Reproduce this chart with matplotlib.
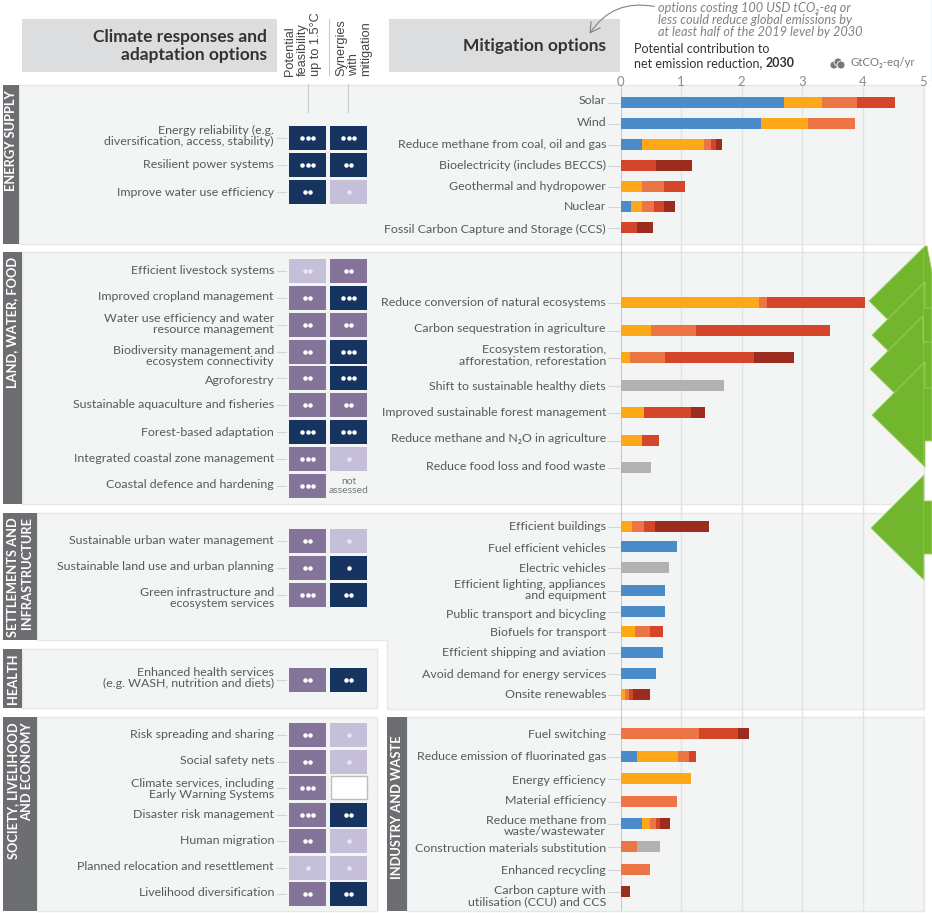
import numpy as np
import matplotlib
matplotlib.use("Agg")
import matplotlib.pyplot as plt
from matplotlib.patches import Rectangle, Polygon, Circle, FancyArrowPatch

# --- данные ---
mit_energy = ["Solar", "Wind", "Reduce methane from coal, oil and gas", "Bioelectricity (includes BECCS)",
              "Geothermal and hydropower", "Nuclear", "Fossil Carbon Capture and Storage (CCS)"]
mit_land = ["Reduce conversion of natural ecosystems", "Carbon sequestration in agriculture",
            "Ecosystem restoration,\nafforestation, reforestation", "Shift to sustainable healthy diets",
            "Improved sustainable forest management", "Reduce methane and N₂O in agriculture",
            "Reduce food loss and food waste"]
mit_settle = ["Efficient buildings", "Fuel efficient vehicles", "Electric vehicles",
              "Efficient lighting, appliances\nand equipment", "Public transport and bicycling",
              "Biofuels for transport", "Efficient shipping and aviation", "Avoid demand for energy services",
              "Onsite renewables"]
mit_industry = ["Fuel switching", "Reduce emission of fluorinated gas", "Energy efficiency", "Material efficiency",
                "Reduce methane from\nwaste/wastewater", "Construction materials substitution",
                "Enhanced recycling", "Carbon capture with\nutilisation (CCU) and CCS"]
mit_labels = mit_energy + mit_land + mit_settle + mit_industry

# ширина сегментов: синий, жёлтый, оранжевый, красный, тёмно-красный, серый
seg_blue = [2.70, 2.32, 0.36, 0, 0, 0.17, 0, 0, 0, 0, 0, 0, 0, 0, 0, 0.93, 0, 0.73, 0.73, 0, 0.70, 0.58, 0,
            0, 0.27, 0, 0, 0.35, 0, 0, 0]
seg_yellow = [0.62, 0.78, 1.02, 0, 0.36, 0.19, 0, 2.29, 0.51, 0.16, 0, 0.38, 0.35, 0, 0.19, 0, 0, 0, 0, 0.24, 0, 0, 0.07,
              0, 0.68, 1.16, 0, 0.14, 0, 0, 0]
seg_orange = [0.59, 0.77, 0.11, 0, 0.35, 0.19, 0, 0.12, 0.73, 0.57, 0, 0, 0, 0, 0.20, 0, 0, 0, 0, 0.24, 0, 0, 0.07,
              1.30, 0.18, 0, 0.94, 0.10, 0.28, 0.49, 0]
seg_red = [0.62, 0, 0.09, 0.59, 0.36, 0.16, 0.27, 1.63, 2.21, 1.47, 0, 0.79, 0.29, 0, 0.18, 0, 0, 0, 0, 0.22, 0, 0, 0.06,
           0.64, 0.11, 0, 0, 0.07, 0, 0, 0]
seg_dark = [0, 0, 0.10, 0.59, 0, 0.19, 0.27, 0, 0, 0.66, 0, 0.23, 0, 0, 0.89, 0, 0, 0, 0, 0, 0, 0, 0.28,
            0.18, 0, 0, 0, 0.16, 0, 0, 0.16]
seg_grey = [0, 0, 0, 0, 0, 0, 0, 0, 0, 0, 1.71, 0, 0, 0.51, 0, 0, 0.80, 0, 0, 0, 0, 0, 0,
            0, 0, 0, 0, 0, 0.38, 0, 0]
mit_rows = [103, 124, 145, 166, 187, 207, 228, 303, 331, 358, 386, 413, 441, 468,
            527, 547, 568, 591, 612, 632, 653, 674, 695, 734, 757, 779, 802, 824, 847, 870, 892]
mit_label_rows = [101, 123, 144, 165, 186, 206, 229, 302, 329, 355, 386, 413, 439, 466,
                  527, 548, 568, 590, 614, 632, 653, 674, 695, 734, 757, 780, 801, 826, 849, 871, 896]

ad_labels = ["Energy reliability (e.g.\ndiversification, access, stability)", "Resilient power systems",
             "Improve water use efficiency",
             "Efficient livestock systems", "Improved cropland management", "Water use efficiency and water\nresource management",
             "Biodiversity management and\necosystem connectivity", "Agroforestry", "Sustainable aquaculture and fisheries",
             "Forest-based adaptation", "Integrated coastal zone management", "Coastal defence and hardening",
             "Sustainable urban water management", "Sustainable land use and urban planning",
             "Green infrastructure and\necosystem services",
             "Enhanced health services\n(e.g. WASH, nutrition and diets)",
             "Risk spreading and sharing", "Social safety nets", "Climate services, including\nEarly Warning Systems",
             "Disaster risk management", "Human migration", "Planned relocation and resettlement", "Livelihood diversification"]
# 3 - высокий, 2 - средний, 1 - низкий; точки = достоверность; None - нет оценки
feas_level = [3, 3, 3, 1, 2, 2, 2, 2, 2, 3, 2, 2, 2, 2, 2, 2, 2, 2, 2, 2, 2, 1, 2]
feas_dots = [3, 3, 2, 2, 2, 2, 2, 2, 2, 3, 3, 3, 2, 2, 3, 2, 2, 2, 3, 3, 2, 1, 2]
syn_level = [3, 3, 1, 2, 3, 2, 3, 3, 2, 3, 1, None, 1, 3, 3, 3, 1, 1, 0, 3, 1, 1, 3]
syn_dots = [3, 2, 1, 2, 3, 2, 3, 3, 2, 3, 1, 0, 1, 1, 2, 2, 1, 1, 0, 2, 1, 1, 2]
ad_rows = [138, 165, 192, 271, 298, 325, 352, 378, 405, 432, 459, 486, 541, 568, 595, 680,
           735, 762, 788, 815, 841, 868, 894]
ad_label_rows = [136, 165, 192, 271, 296, 324, 356, 380, 405, 432, 458, 485, 540, 567, 598, 678,
                 734, 761, 789, 814, 841, 867, 892]

axis_ticks = [0, 1, 2, 3, 4, 5]

plt.rcParams['font.family'] = ['Lato', 'DejaVu Sans']

grey_text = '#58595b'
panel_c = '#f3f5f5'
panel_edge = '#e6e7e8'
tab_c = '#6d6e71'
level_c = {3: '#17335f', 2: '#857499', 1: '#c5bfda', 0: 'white'}
seg_c = ['#4a8ccb', '#fda816', '#ec7545', '#d4452a', '#9b2c1e', '#b2b2b5']

fig = plt.figure(figsize=(9.32, 9.13), dpi=100)
# фон в пикселях
bg = fig.add_axes([0, 0, 1, 1])
bg.set_xlim(0, 932)
bg.set_ylim(913, 0)
bg.axis('off')

def box(x0, y0, x1, y1, color, z=1, edge='none'):
    bg.add_patch(Rectangle((x0, y0), x1 - x0, y1 - y0, fc=color, ec=edge, lw=1, zorder=z))

# панели
box(19, 85, 924, 244, panel_c, edge=panel_edge)
box(22, 252, 924, 504, panel_c, edge=panel_edge)
bg.add_patch(Polygon([(37, 513), (924, 513), (924, 709), (387, 709), (387, 640), (37, 640)],
                     closed=True, fc=panel_c, ec=panel_edge, lw=1, zorder=1))
box(22, 649, 377, 708, panel_c, edge=panel_edge)
box(37, 717, 377, 911, panel_c, edge=panel_edge)
box(407, 717, 924, 911, panel_c, edge=panel_edge)

tabs = [(3, 85, 19, 244, 90, "ENERGY SUPPLY"), (3, 252, 22, 504, 257, "LAND, WATER, FOOD"),
        (3, 513, 37, 640, 517, "SETTLEMENTS AND\nINFRASTRUCTURE"), (3, 649, 22, 708, 653, "HEALTH"),
        (3, 717, 37, 911, 722, "SOCIETY, LIVELIHOOD\nAND ECONOMY"), (387, 717, 407, 911, 735, "INDUSTRY AND WASTE")]
for x0, y0, x1, y1, top, name in tabs:
    box(x0, y0, x1, y1, tab_c, 2)
    bg.text((x0 + x1) / 2, top, name, color='white', rotation=90, ha='center', va='top', multialignment='right',
            fontsize=9.3, fontweight='bold', linespacing=1.2, zorder=3)

# шапка
box(22, 19, 277, 72, '#dcddde')
box(389, 19, 620, 72, '#dcddde')
bg.text(267, 46, "Climate responses and\nadaptation options", ha='right', va='center', fontsize=12.5,
        fontweight='bold', color='#333333', linespacing=1.15)
bg.text(606, 46, "Mitigation options", ha='right', va='center', fontsize=12.5,
        fontweight='bold', color='#333333')
bg.text(303, 76, "Potential\nfeasibility\nup to 1.5°C", rotation=90, ha='center', va='bottom', fontsize=9.2,
        color='#444444', linespacing=1.1, multialignment='left', family=['Liberation Sans', 'DejaVu Sans'])
bg.text(354, 76, "Synergies\nwith\nmitigation", rotation=90, ha='center', va='bottom', fontsize=9.2,
        color='#444444', linespacing=1.05, multialignment='left', family=['Liberation Sans', 'DejaVu Sans'])
bg.plot([329, 329], [19, 75], color='#c9cacc', lw=0.8, zorder=2)
for x in [307.5, 348]:
    bg.plot([x, x], [84, 112], color='#c9cacc', lw=0.8, zorder=2)

# матрица адаптации
def cell(x0, y, level, dots):
    if level is None:
        bg.text(x0 + 18.5, y, "not\nassessed", ha='center', va='center', fontsize=7.5, color='#77787b', linespacing=0.95, zorder=4)
        return
    if level == 0:
        bg.add_patch(Rectangle((x0 + 0.5, y - 11.5), 36, 23, fc='white', ec='#bcbdbf', lw=1, zorder=3))
        return
    bg.add_patch(Rectangle((x0, y - 12), 37, 24, fc=level_c[level], ec='none', zorder=3))
    dot_c = 'white' if level > 1 else '#e9e7f1'
    xs = x0 + 18.5 + (np.arange(dots) - (dots - 1) / 2) * 5.8
    bg.scatter(xs, [y] * dots, s=10.5, color=dot_c, linewidths=0, zorder=4)

for i in range(len(ad_labels)):
    y = ad_rows[i]
    bg.text(274, ad_label_rows[i], ad_labels[i], ha='right', va='center', fontsize=8.9, color=grey_text, linespacing=1.05, zorder=4)
    bg.plot([277, 286], [y, y], color='#d4d5d7', lw=0.8, zorder=2)
    cell(289, y, feas_level[i], feas_dots[i])
    cell(330, y, syn_level[i], syn_dots[i])

# столбцы смягчения - отдельная ось
x_l, x_r = 620.5, 923.5
ax = fig.add_axes([x_l / 932, 0, (x_r - x_l) / 932, 1])
ax.patch.set_alpha(0)
ax.set_xlim(0, 5)
ax.set_ylim(913, 0)
for s in ax.spines.values():
    s.set_visible(False)
ax.set_yticks([])
ax.xaxis.tick_top()
ax.set_xticks(axis_ticks)
ax.tick_params(axis='x', length=0, pad=-63, labelsize=9.5, labelcolor='#8a8c8e')

ax.vlines(axis_ticks[1:], 85, 911, color='#e2e3e4', lw=1, zorder=1)
ax.vlines(0, 85, 911, color='#bcbdbf', lw=1.2, zorder=1)

left = np.zeros(len(mit_labels))
for vals, c in zip([seg_blue, seg_yellow, seg_orange, seg_red, seg_dark, seg_grey], seg_c):
    vals = np.array(vals)
    ax.barh(mit_rows, vals, left=left, height=11, color=c, linewidth=0, zorder=3)
    left += vals

for i in range(len(mit_labels)):
    y = mit_rows[i]
    bg.text(606, mit_label_rows[i], mit_labels[i], ha='right', va='center', fontsize=8.9, color=grey_text, linespacing=1.05, zorder=4)
    bg.plot([608, 620], [y, y], color='#d4d5d7', lw=0.8, zorder=2)

# подписи оси
bg.text(634, 49, "Potential contribution to", va='center', fontsize=9, color='#333333')
t = bg.text(634, 63, "net emission reduction, ", va='center', fontsize=9, color='#333333')
bg.annotate("2030", xy=(1, 0), xycoords=t, va='bottom', fontsize=9, fontweight='bold', color='#333333')
bg.text(915, 63, "GtCO₂-eq/yr", ha='right', va='center', fontsize=8.2, color='#77787b')
for cx, cy in [(834, 65), (838, 62), (841, 65)]:
    bg.add_patch(Circle((cx, cy), 4, fc='#77787b', ec='white', lw=0.6, zorder=4))

# рукописная сноска
bg.text(658, 20, "options costing 100 USD tCO₂-eq or\nless could reduce global emissions by\nat least half of the 2019 level by 2030",
        ha='left', va='center', fontsize=9.2, style='italic', color='#808285', linespacing=0.95)
bg.add_patch(FancyArrowPatch((657, 7), (588, 36), connectionstyle="arc3,rad=0.35", arrowstyle='->,head_length=7,head_width=4',
                             color='#808285', lw=0.8, zorder=5))

# зелёные стрелки справа
green = '#72b62e'
for n, (tx, ty) in enumerate([(869, 301), (872, 335), (870, 369), (872, 415), (871, 528)]):
    nx = tx + 53
    pts = [(tx, ty), (nx, ty - 53), (nx, ty - 27), (932, ty - 27), (932, ty + 26), (nx, ty + 26), (nx, ty + 52)]
    if n == 0:
        pts[1:3] = [(925, ty - 55), (927, ty - 55), (927, ty - 29)]
        pts[3] = (932, ty - 29)
    bg.add_patch(Polygon(pts, closed=True, fc=green, ec='#a5cf6b', lw=0.6, zorder=6 + n))

bg.plot([931.5, 931.5], [0, 80], color='#2a64a8', lw=0.8, zorder=5)

fig.savefig('out.png', dpi=100)
